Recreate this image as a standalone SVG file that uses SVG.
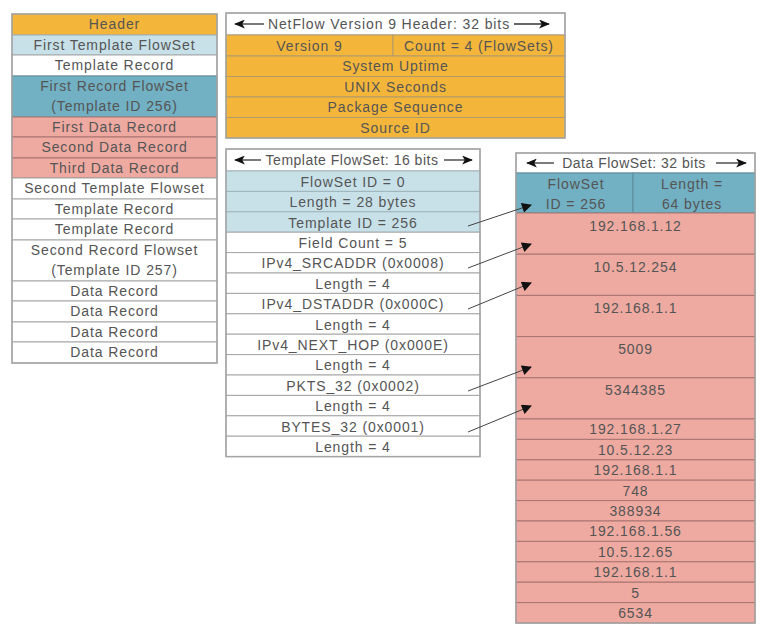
<svg xmlns="http://www.w3.org/2000/svg" width="764" height="632" viewBox="0 0 764 632">
<defs>
<style>
text{font-family:"Liberation Sans",Arial,sans-serif;font-size:14px;fill:#555555;text-anchor:middle;letter-spacing:0.9px}
text.tt{letter-spacing:0.5px}
.gold{fill:#f4b63a;stroke:#b29a6a;stroke-width:1}
.lb{fill:#c8e1e9;stroke:#9fb4bb;stroke-width:1}
.teal{fill:#72b0c3;stroke:#5a8c9c;stroke-width:1}
.sal{fill:#eeaaa1;stroke:#a97470;stroke-width:1}
.wh{fill:#ffffff;stroke:#a5a5a5;stroke-width:1}
.frame{fill:none;stroke:#a5a5a5;stroke-width:1.5}
.con{stroke:#444;stroke-width:1;fill:none;marker-end:url(#ah)}
.tarr{stroke:#333;stroke-width:1.3;fill:none;marker-end:url(#th)}
</style>
<marker id="ah" viewBox="0 0 10 10" refX="9" refY="5" markerWidth="11" markerHeight="10" markerUnits="userSpaceOnUse" orient="auto"><path d="M0,0 L10,5 L0,10 z" fill="#111"/></marker>
<marker id="th" viewBox="0 0 12 10" refX="11" refY="5" markerWidth="13" markerHeight="9" markerUnits="userSpaceOnUse" orient="auto"><path d="M0,0 L12,5 L0,10 L3,5 z" fill="#111"/></marker>
</defs>
<rect width="764" height="632" fill="#ffffff"/>

<g id="left-column">
<rect class="gold" x="12" y="14" width="205" height="21"/><text x="114.5" y="29">Header</text>
<rect class="lb" x="12" y="35" width="205" height="20"/><text x="114.5" y="50">First Template FlowSet</text>
<rect class="wh" x="12" y="55" width="205" height="21"/><text x="114.5" y="70">Template Record</text>
<rect class="teal" x="12" y="76" width="205" height="41"/><text x="114.5" y="91">First Record FlowSet</text><text x="114.5" y="111">(Template ID 256)</text>
<rect class="sal" x="12" y="117" width="205" height="20"/><text x="114.5" y="132">First Data Record</text>
<rect class="sal" x="12" y="137" width="205" height="21"/><text x="114.5" y="152">Second Data Record</text>
<rect class="sal" x="12" y="158" width="205" height="20"/><text x="114.5" y="173">Third Data Record</text>
<rect class="wh" x="12" y="178" width="205" height="21"/><text x="114.5" y="193">Second Template Flowset</text>
<rect class="wh" x="12" y="199" width="205" height="20"/><text x="114.5" y="214">Template Record</text>
<rect class="wh" x="12" y="219" width="205" height="21"/><text x="114.5" y="234">Template Record</text>
<rect class="wh" x="12" y="240" width="205" height="41"/><text x="114.5" y="255">Second Record Flowset</text><text x="114.5" y="275">(Template ID 257)</text>
<rect class="wh" x="12" y="281" width="205" height="20"/><text x="114.5" y="296">Data Record</text>
<rect class="wh" x="12" y="301" width="205" height="21"/><text x="114.5" y="316">Data Record</text>
<rect class="wh" x="12" y="322" width="205" height="20"/><text x="114.5" y="337">Data Record</text>
<rect class="wh" x="12" y="342" width="205" height="21"/><text x="114.5" y="357">Data Record</text>
<rect class="frame" x="12" y="14" width="205" height="349"/>
</g>

<g id="header-box">
<rect class="wh" x="226" y="13" width="339" height="22"/>
<line class="tarr" x1="264" y1="24" x2="235" y2="24"/>
<text x="389" y="29">NetFlow Version 9 Header: 32 bits</text>
<line class="tarr" x1="514" y1="24" x2="549" y2="24"/>
<rect class="gold" x="226" y="35" width="167" height="21"/><text x="309.5" y="50.5">Version 9</text>
<rect class="gold" x="393" y="35" width="172" height="21"/><text x="479" y="50.5">Count = 4 (FlowSets)</text>
<rect class="gold" x="226" y="56" width="339" height="20.5"/><text x="395.5" y="71">System Uptime</text>
<rect class="gold" x="226" y="76.5" width="339" height="20.5"/><text x="395.5" y="91.5">UNIX Seconds</text>
<rect class="gold" x="226" y="97" width="339" height="20.5"/><text x="395.5" y="112">Package Sequence</text>
<rect class="gold" x="226" y="117.5" width="339" height="20.5"/><text x="395.5" y="132.5">Source ID</text>
<rect class="frame" x="226" y="13" width="339" height="125"/>
</g>

<g id="template-flowset">
<rect class="wh" x="226" y="149" width="254" height="22"/>
<line class="tarr" x1="261" y1="160" x2="235" y2="160"/>
<text class="tt" x="352" y="165">Template FlowSet: 16 bits</text>
<line class="tarr" x1="444" y1="160" x2="472" y2="160"/>
<rect class="lb" x="226" y="171" width="254" height="20.4"/><text x="353" y="186.5">FlowSet ID = 0</text>
<rect class="lb" x="226" y="191.4" width="254" height="20.4"/><text x="353" y="207">Length = 28 bytes</text>
<rect class="lb" x="226" y="211.8" width="254" height="20.4"/><text x="353" y="227.5">Template ID = 256</text>
<rect class="wh" x="226" y="232.2" width="254" height="20.4"/><text x="353" y="248">Field Count = 5</text>
<rect class="wh" x="226" y="252.6" width="254" height="20.4"/><text x="353" y="268">IPv4_SRCADDR (0x0008)</text>
<rect class="wh" x="226" y="273" width="254" height="20.4"/><text x="353" y="288.5">Length = 4</text>
<rect class="wh" x="226" y="293.4" width="254" height="20.4"/><text x="353" y="309">IPv4_DSTADDR (0x000C)</text>
<rect class="wh" x="226" y="313.8" width="254" height="20.4"/><text x="353" y="329.5">Length = 4</text>
<rect class="wh" x="226" y="334.2" width="254" height="20.4"/><text x="353" y="350">IPv4_NEXT_HOP (0x000E)</text>
<rect class="wh" x="226" y="354.6" width="254" height="20.4"/><text x="353" y="370">Length = 4</text>
<rect class="wh" x="226" y="375" width="254" height="20.4"/><text x="353" y="390.5">PKTS_32 (0x0002)</text>
<rect class="wh" x="226" y="395.4" width="254" height="20.4"/><text x="353" y="411">Length = 4</text>
<rect class="wh" x="226" y="415.8" width="254" height="20.4"/><text x="353" y="431.5">BYTES_32 (0x0001)</text>
<rect class="wh" x="226" y="436.2" width="254" height="20.4"/><text x="353" y="452">Length = 4</text>
<rect class="frame" x="226" y="149" width="254" height="307.6"/>
</g>

<g id="data-flowset">
<rect class="wh" x="516" y="153" width="239" height="20"/>
<line class="tarr" x1="554" y1="163" x2="527" y2="163"/>
<text class="tt" x="634" y="168">Data FlowSet: 32 bits</text>
<line class="tarr" x1="716" y1="163" x2="746" y2="163"/>
<rect class="teal" x="516" y="173" width="117" height="40"/><text x="576" y="189">FlowSet</text><text x="576" y="209">ID = 256</text>
<rect class="teal" x="633" y="173" width="122" height="40"/><text x="692" y="189">Length =</text><text x="692" y="209">64 bytes</text>
<rect class="sal" x="516" y="213" width="239" height="41.2"/><text x="635.5" y="231">192.168.1.12</text>
<rect class="sal" x="516" y="254.2" width="239" height="41.2"/><text x="635.5" y="272">10.5.12.254</text>
<rect class="sal" x="516" y="295.4" width="239" height="41.2"/><text x="635.5" y="313">192.168.1.1</text>
<rect class="sal" x="516" y="336.6" width="239" height="41.2"/><text x="635.5" y="354">5009</text>
<rect class="sal" x="516" y="377.8" width="239" height="41.2"/><text x="635.5" y="395">5344385</text>
<rect class="sal" x="516" y="419" width="239" height="20.4"/><text x="635.5" y="434">192.168.1.27</text>
<rect class="sal" x="516" y="439.4" width="239" height="20.4"/><text x="635.5" y="454.5">10.5.12.23</text>
<rect class="sal" x="516" y="459.8" width="239" height="20.4"/><text x="635.5" y="475">192.168.1.1</text>
<rect class="sal" x="516" y="480.2" width="239" height="20.4"/><text x="635.5" y="495.5">748</text>
<rect class="sal" x="516" y="500.6" width="239" height="20.4"/><text x="635.5" y="516">388934</text>
<rect class="sal" x="516" y="521" width="239" height="20.4"/><text x="635.5" y="536">192.168.1.56</text>
<rect class="sal" x="516" y="541.4" width="239" height="20.4"/><text x="635.5" y="556.5">10.5.12.65</text>
<rect class="sal" x="516" y="561.8" width="239" height="20.4"/><text x="635.5" y="577">192.168.1.1</text>
<rect class="sal" x="516" y="582.2" width="239" height="20.4"/><text x="635.5" y="597.5">5</text>
<rect class="sal" x="516" y="602.6" width="239" height="20.4"/><text x="635.5" y="618">6534</text>
<rect class="frame" x="516" y="153" width="239" height="470"/>
</g>

<g id="connectors">
<path class="con" d="M468,226 L531,205"/>
<path class="con" d="M468,268 L531,244"/>
<path class="con" d="M468,309 L531,283"/>
<path class="con" d="M468,391 L531,367"/>
<path class="con" d="M468,432 L531,406"/>
</g>
</svg>
